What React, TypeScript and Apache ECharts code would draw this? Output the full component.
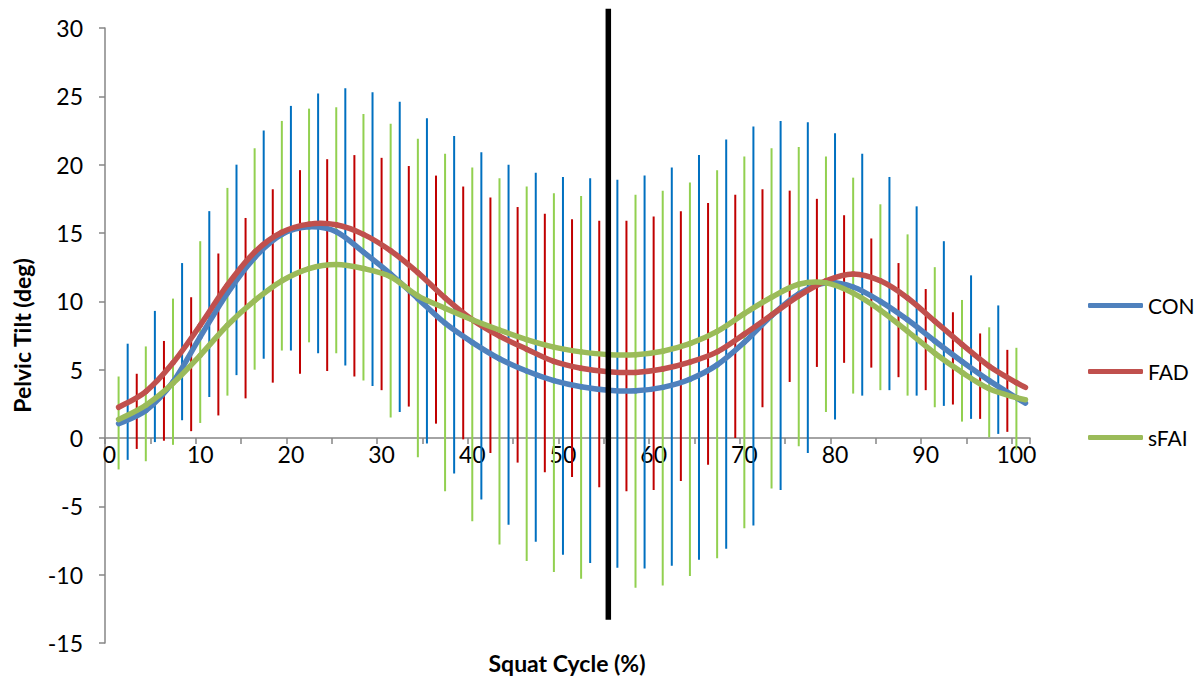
import React, { useEffect, useRef } from "react";
import * as echarts from "echarts";

// Category axis: squat cycle 0..101 (%)
const xCategories: string[] = Array.from({ length: 102 }, (_, i) => String(i));
const yTicks = { min: -15, max: 30, interval: 5 };

// Mean curves, sampled positions (category index)
const lineX = [1, 4, 7, 10, 13, 16, 19, 22, 25, 28, 31, 34, 37, 40, 43, 46, 49, 52, 55, 58, 61, 64, 67, 70, 73, 76, 79, 82, 85, 88, 91, 94, 97, 100, 101];
const conMean = [1.05, 2.0, 4.1, 7.4, 10.6, 13.2, 14.9, 15.45, 15.1, 13.6, 12.0, 10.2, 8.4, 7.0, 5.8, 4.9, 4.2, 3.75, 3.5, 3.45, 3.7, 4.3, 5.35, 7.0, 8.95, 10.55, 11.35, 11.05, 10.0, 8.65, 7.1, 5.6, 4.2, 2.95, 2.55];
const fadMean = [2.25, 3.4, 5.5, 8.25, 11.2, 13.6, 15.05, 15.65, 15.6, 14.9, 13.7, 12.1, 10.25, 8.65, 7.45, 6.5, 5.6, 5.1, 4.85, 4.8, 5.05, 5.55, 6.3, 7.6, 9.0, 10.4, 11.5, 12.0, 11.5, 10.25, 8.55, 6.85, 5.25, 4.05, 3.7];
const sfaiMean = [1.35, 2.4, 4.0, 6.05, 8.25, 10.05, 11.5, 12.4, 12.7, 12.4, 11.8, 10.4, 9.5, 8.65, 7.9, 7.2, 6.65, 6.3, 6.1, 6.1, 6.35, 6.9, 7.8, 9.1, 10.3, 11.25, 11.35, 10.6, 9.35, 7.8, 6.2, 4.8, 3.6, 2.95, 2.8];

// Error bars (SD range): positions, upper and lower ends
const conBarX = [2, 5, 8, 11, 14, 17, 20, 23, 26, 29, 32, 35, 38, 41, 44, 47, 50, 53, 56, 59, 62, 65, 68, 71, 74, 77, 80, 83, 86, 89, 92, 95, 98];
const conBarHigh = [6.9, 9.3, 12.8, 16.6, 20.0, 22.5, 24.3, 25.2, 25.6, 25.3, 24.6, 23.4, 22.1, 20.9, 20.0, 19.4, 19.1, 19.0, 18.9, 19.2, 19.8, 20.7, 21.85, 22.8, 23.2, 23.1, 22.3, 20.8, 19.1, 16.95, 14.4, 11.9, 9.7];
const conBarLow = [-1.6, -0.3, 1.3, 3.0, 4.6, 5.8, 6.4, 6.2, 5.3, 3.8, 1.9, -0.4, -2.6, -4.5, -6.35, -7.6, -8.55, -9.15, -9.5, -9.55, -9.35, -8.9, -8.1, -6.4, -3.8, -1.1, 1.35, 3.1, 3.5, 3.1, 2.35, 1.4, 0.3];

const fadBarX = [3, 6, 9, 12, 15, 18, 21, 24, 27, 30, 33, 36, 39, 42, 45, 48, 51, 54, 57, 60, 63, 66, 69, 72, 75, 78, 81, 84, 87, 90, 93, 96, 99];
const fadBarHigh = [4.7, 7.1, 10.3, 13.5, 16.1, 18.2, 19.6, 20.4, 20.7, 20.5, 19.9, 19.2, 18.4, 17.6, 16.9, 16.4, 16.0, 15.9, 15.9, 16.2, 16.6, 17.2, 17.8, 18.2, 18.1, 17.5, 16.3, 14.6, 12.8, 10.9, 9.2, 7.65, 6.45];
const fadBarLow = [-0.8, -0.2, 0.5, 1.65, 2.9, 4.05, 4.7, 4.9, 4.5, 3.5, 2.3, 1.05, -0.1, -1.1, -1.8, -2.5, -2.85, -3.6, -3.9, -3.8, -3.15, -1.95, 0.0, 2.25, 4.1, 5.2, 5.5, 5.15, 4.45, 3.5, 2.45, 1.4, 0.45];

const sfaiBarX = [1, 4, 7, 10, 13, 16, 19, 22, 25, 28, 31, 34, 37, 40, 43, 46, 49, 52, 55, 58, 61, 64, 67, 70, 73, 76, 79, 82, 85, 88, 91, 94, 97, 100];
const sfaiBarHigh = [4.5, 6.7, 10.2, 14.4, 18.3, 21.2, 23.2, 24.1, 24.2, 23.7, 23.0, 21.9, 20.8, 19.8, 19.0, 18.4, 17.9, 17.7, 17.7, 17.8, 18.1, 18.7, 19.6, 20.6, 21.2, 21.3, 20.6, 19.05, 17.1, 14.9, 12.5, 10.1, 8.1, 6.6];
const sfaiBarLow = [-2.3, -1.7, -0.5, 1.1, 3.1, 5.0, 6.4, 7.0, 6.2, 4.2, 1.5, -1.4, -3.9, -6.1, -7.8, -9.0, -9.8, -10.3, -10.6, -10.95, -10.8, -10.1, -8.8, -6.6, -3.7, -0.6, 1.9, 3.25, 3.5, 3.1, 2.25, 1.2, 0.05, -0.85];

// Vertical marker (black line) at 55 % of the squat cycle
const markerX = 55;
const markerRange = [-13.3, 31.4];

const seriesNames = ["CON", "FAD", "sFAI"];
const lineColors = ["#4F81BD", "#C0504D", "#9BBB59"];
const barColors = ["#0070C0", "#C00000", "#92D050"];

const FONT = "Lato, 'Noto Sans', sans-serif";

function triples(xs: number[], lo: number[], hi: number[]) {
  return xs.map((x, i) => [x, lo[i], hi[i]]);
}

function errorSeries(name: string, data: number[][], color: string) {
  return {
    type: "custom",
    name: name + " SD",
    z: 1,
    silent: true,
    encode: { x: 0, y: [1, 2] },
    data,
    renderItem: (params: any, api: any) => {
      const x = api.value(0);
      const p1 = api.coord([x, api.value(1)]);
      const p2 = api.coord([x, api.value(2)]);
      return {
        type: "line",
        shape: { x1: p1[0], y1: p1[1], x2: p2[0], y2: p2[1] },
        style: { stroke: color, lineWidth: 2 },
      };
    },
  };
}

// Smooth (Catmull-Rom) mean curve, one bezier segment per data point
function curveSeries(name: string, xs: number[], ys: number[], color: string) {
  const n = xs.length;
  const clamp = (k: number) => Math.max(0, Math.min(n - 1, k));
  return {
    type: "custom",
    name,
    z: 3,
    silent: true,
    itemStyle: { color },
    encode: { x: 0, y: 1 },
    data: xs.map((x, i) => [x, ys[i]]),
    renderItem: (params: any, api: any) => {
      const i = params.dataIndex;
      if (i >= n - 1) return null;
      const P = (k: number) => api.coord([xs[clamp(k)], ys[clamp(k)]]);
      const p0 = P(i - 1);
      const p1 = P(i);
      const p2 = P(i + 1);
      const p3 = P(i + 2);
      return {
        type: "bezierCurve",
        shape: {
          x1: p1[0],
          y1: p1[1],
          x2: p2[0],
          y2: p2[1],
          cpx1: p1[0] + (p2[0] - p0[0]) / 6,
          cpy1: p1[1] + (p2[1] - p0[1]) / 6,
          cpx2: p2[0] - (p3[0] - p1[0]) / 6,
          cpy2: p2[1] - (p3[1] - p1[1]) / 6,
        },
        style: { stroke: color, lineWidth: 5.5, fill: "none", lineCap: "round" },
      };
    },
  };
}

export default function App() {
  const ref = useRef<HTMLDivElement>(null);
  useEffect(() => {
    if (!ref.current) return;
    const chart = echarts.init(ref.current, undefined, { renderer: "svg" });
    const means = [conMean, fadMean, sfaiMean];
    const bars = [
      triples(conBarX, conBarLow, conBarHigh),
      triples(fadBarX, fadBarLow, fadBarHigh),
      triples(sfaiBarX, sfaiBarLow, sfaiBarHigh),
    ];
    chart.setOption({
      animation: false,
      backgroundColor: "#ffffff",
      grid: { left: 105, right: 170, top: 28, bottom: 37, containLabel: false },
      legend: {
        data: seriesNames,
        orient: "vertical",
        left: 1083,
        top: 290,
        icon: "roundRect",
        itemWidth: 55,
        itemHeight: 5,
        itemGap: 45,
        textStyle: { fontFamily: FONT, fontSize: 21, color: "#000" },
      },
      xAxis: {
        type: "category",
        data: xCategories,
        boundaryGap: true,
        offset: -205,
        axisLine: { onZero: false, lineStyle: { color: "#868686", width: 1.5 } },
        axisTick: {
          show: true,
          interval: (i: number) => i % 5 === 0,
          length: 6,
          lineStyle: { color: "#868686", width: 1.5 },
        },
        axisLabel: {
          interval: (i: number) => i % 10 === 0,
          margin: 4,
          fontFamily: FONT,
          fontSize: 23,
          color: "#000",
        },
        splitLine: { show: false },
      },
      yAxis: {
        type: "value",
        min: yTicks.min,
        max: yTicks.max,
        interval: yTicks.interval,
        name: "Pelvic Tilt (deg)",
        nameLocation: "middle",
        nameGap: 72,
        nameTextStyle: { fontFamily: FONT, fontSize: 23, fontWeight: "bold", color: "#000" },
        axisLine: { show: true, lineStyle: { color: "#868686", width: 1.5 } },
        axisTick: { show: true, length: 6, lineStyle: { color: "#868686", width: 1.5 } },
        axisLabel: { margin: 22, fontFamily: FONT, fontSize: 23, color: "#000" },
        splitLine: { show: false },
      },
      graphic: [
        {
          type: "text",
          x: 567,
          y: 663,
          style: {
            text: "Squat Cycle (%)",
            fontFamily: FONT,
            fontSize: 23,
            fontWeight: "bold",
            fill: "#000",
            textAlign: "center",
            textVerticalAlign: "middle",
          },
        },
      ],
      series: [
        ...bars.map((b, i) => errorSeries(seriesNames[i], b, barColors[i])),
        ...means.map((m, i) => curveSeries(seriesNames[i], lineX, m, lineColors[i])),
        {
          type: "line",
          name: "marker",
          z: 5,
          clip: false,
          data: [
            [markerX, markerRange[0]],
            [markerX, markerRange[1]],
          ],
          showSymbol: false,
          symbol: "none",
          color: "#000",
          lineStyle: { width: 5.5, color: "#000" },
        },
      ],
    });
    return () => chart.dispose();
  }, []);
  return (
    <div
      ref={ref}
      style={{ position: "absolute", left: 0, top: 0, width: 1200, height: 680, background: "#fff" }}
    />
  );
}
